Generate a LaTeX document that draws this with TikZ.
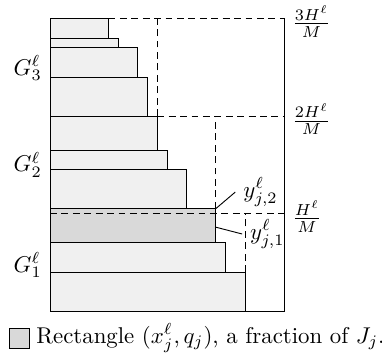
\documentclass[tikz,border=0pt]{standalone}
\usepackage{amsmath}
\usetikzlibrary{positioning}

\begin{document}
\begin{tikzpicture}[scale=1.5,
    item/.style={draw, fill=black!6},
    chosen/.style={draw, fill=black!15},
    level/.style={densely dashed}]
  \useasboundingbox (-0.513,-0.503) rectangle (3.405,3.19);

  % bin of width W = 2.4, levels at H/M, 2H/M, 3H/M
  \coordinate (O) at (0,0);
  \coordinate (W) at (2.4,0);
  \coordinate (T) at (2.4,3);

  % G_1
  \filldraw[item] (0,0) rectangle (2.0,0.4);
  \filldraw[item] (0,0.4) rectangle (1.8,0.7);
  % rectangle (x_j, q_j)
  \filldraw[chosen] (0,0.7) rectangle (1.7,1.05);
  % G_2
  \filldraw[item] (0,1.05) rectangle (1.4,1.45);
  \filldraw[item] (0,1.45) rectangle (1.2,1.65);
  \filldraw[item] (0,1.65) rectangle (1.1,2.0);
  % G_3
  \filldraw[item] (0,2.0) rectangle (1.0,2.4);
  \filldraw[item] (0,2.4) rectangle (0.9,2.7);
  \filldraw[item] (0,2.7) rectangle (0.7,2.8);
  \filldraw[item] (0,2.8) rectangle (0.6,3.0);

  \draw (O)--(W)--(T);

  % levels
  \draw[level] (0,1)--(2.4,1);
  \draw[level] (1.1,2)--(2.4,2);
  \draw[level] (0.6,3)--(2.4,3);
  \draw[level] (2.0,0.4)--(2.0,1);
  \draw[level] (1.7,1.05)--(1.7,2);
  \draw[level] (1.1,2)--(1.1,3);

  \node[left] (g1) at (0,0.47) {$G^\ell_1$};
  \node[left] (g2) at (0,1.5) {$G^\ell_2$};
  \node[left] (g3) at (0,2.49) {$G^\ell_3$};

  \node[right] (h1) at (2.4,0.97) {$\frac{H^\ell}{M}$};
  \node[right] (h2) at (2.4,1.97) {$\frac{2H^\ell}{M}$};
  \node[right] (h3) at (2.4,2.97) {$\frac{3H^\ell}{M}$};

  % y_{j,1}, y_{j,2}
  \coordinate (y1pt) at (1.7,0.86);
  \coordinate (y2pt) at (1.7,1.05);
  \node[anchor=west] (y1) at (1.97,0.79) {$y^\ell_{j,1}$};
  \node[anchor=west] (y2) at (1.9,1.22) {$y^\ell_{j,2}$};
  \draw (y1pt)--(y1.west);
  \draw (y2pt)--(y2.west);

  % legend
  \node[chosen, minimum size=8.7pt, inner sep=0pt] (legbox) at (-0.31,-0.277) {};
  \node[right=1.5pt of legbox, inner xsep=1pt] (legtext) {Rectangle $(x^\ell_j, q_j)$, a fraction of $J_j$.};
\end{tikzpicture}
\end{document}
